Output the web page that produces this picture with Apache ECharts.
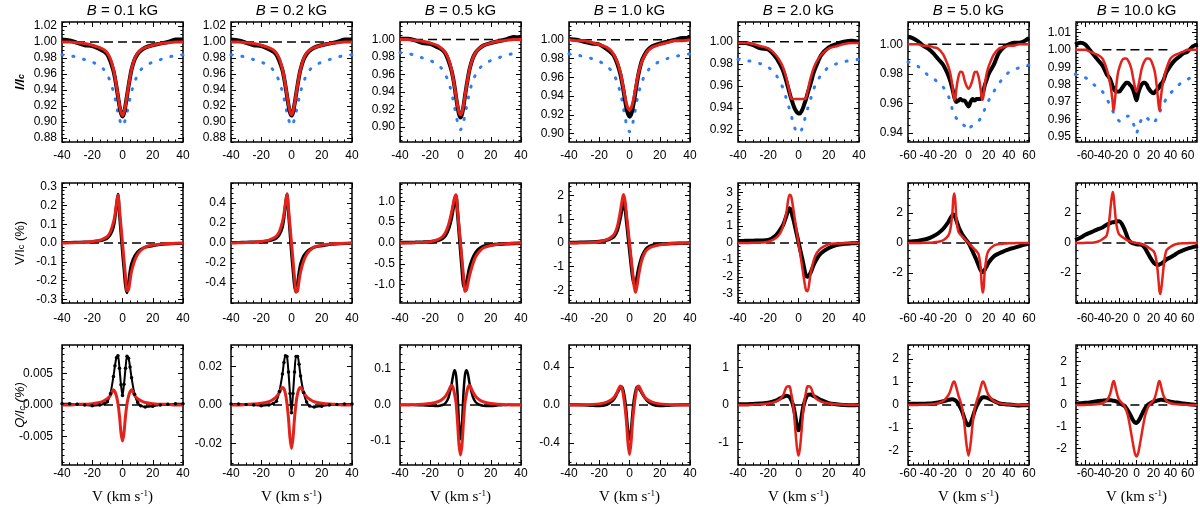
<!DOCTYPE html>
<html>
<head>
<meta charset="utf-8">
<script src="https://cdn.jsdelivr.net/npm/echarts@6/dist/echarts.min.js"></script>
<style>
  html, body { margin: 0; background: #fff; }
  #main { width: 1200px; height: 509px; }
</style>
</head>
<body>
<div id="main"></div>
<script>
// velocity grids (km/s)
const vel40 = [-40,-35,-30,-25,-20,-15,-12,-10,-8,-6,-5,-4,-3,-2,-1,0,1,2,3,4,5,6,8,10,12,15,20,25,30,35,40];
const vel60 = [-60,-55,-50,-45,-40,-35,-30,-25,-20,-18,-16,-15,-14,-13,-12,-10,-8,-6,-4,-2,0,2,4,6,8,10,12,13,14,15,16,18,20,25,30,35,40,45,50,55,60];
const vel72 = [-72,-66,-60,-55,-50,-45,-40,-35,-32,-30,-28,-27,-26,-24,-22,-20,-17,-14,-12,-10,-8,-6,-4,-2,0,2,4,6,8,10,12,14,17,20,22,24,26,27,28,30,32,35,40,45,50,55,60,66,72];
const levelX = [-40, 40];

const fieldLabels = ['0.1', '0.2', '0.5', '1.0', '2.0', '5.0', '10.0'];

// row 1: Stokes I (obs = black, fit = red, ref = blue dotted)
const iObs1 = [1.003,1.002,0.999,0.996,0.995,0.991,0.988,0.984,0.976,0.964,0.955,0.944,0.932,0.920,0.911,0.907,0.911,0.921,0.933,0.945,0.956,0.966,0.978,0.985,0.989,0.993,0.996,0.998,1.000,1.003,1.003];
const iFit1 = [1.000,1.000,0.999,0.998,0.996,0.993,0.990,0.986,0.979,0.966,0.956,0.945,0.933,0.921,0.912,0.908,0.912,0.921,0.933,0.945,0.956,0.966,0.979,0.986,0.990,0.993,0.996,0.998,0.999,1.000,1.000];
const iRef1 = [0.984,0.983,0.981,0.978,0.975,0.970,0.965,0.959,0.950,0.938,0.930,0.921,0.912,0.904,0.898,0.895,0.898,0.904,0.912,0.921,0.930,0.938,0.950,0.959,0.965,0.970,0.975,0.978,0.981,0.983,0.984];
const iObs2 = [1.003,1.002,0.999,0.996,0.995,0.991,0.988,0.984,0.976,0.965,0.956,0.945,0.933,0.921,0.912,0.908,0.912,0.922,0.934,0.946,0.957,0.966,0.978,0.985,0.989,0.993,0.996,0.998,1.000,1.003,1.003];
const iFit2 = [1.000,1.000,0.999,0.998,0.996,0.993,0.990,0.986,0.979,0.966,0.957,0.946,0.934,0.922,0.913,0.909,0.913,0.922,0.934,0.946,0.957,0.966,0.979,0.986,0.990,0.993,0.996,0.998,0.999,1.000,1.000];
const iRef2 = [0.984,0.983,0.981,0.978,0.975,0.970,0.965,0.959,0.950,0.938,0.930,0.921,0.912,0.904,0.898,0.895,0.898,0.904,0.912,0.921,0.930,0.938,0.950,0.959,0.965,0.970,0.975,0.978,0.981,0.983,0.984];
const iObs3 = [1.001,1.001,0.999,0.996,0.995,0.991,0.988,0.984,0.976,0.965,0.957,0.947,0.935,0.924,0.915,0.911,0.915,0.924,0.936,0.947,0.957,0.966,0.978,0.985,0.989,0.993,0.996,0.998,1.000,1.003,1.002];
const iFit3 = [1.000,1.000,0.999,0.998,0.996,0.993,0.989,0.985,0.978,0.966,0.957,0.947,0.936,0.925,0.917,0.914,0.917,0.925,0.936,0.947,0.957,0.966,0.978,0.985,0.989,0.993,0.996,0.998,0.999,1.000,1.000];
const iRef3 = [0.985,0.984,0.982,0.979,0.976,0.971,0.966,0.960,0.952,0.940,0.932,0.923,0.914,0.906,0.900,0.897,0.900,0.906,0.914,0.923,0.932,0.940,0.952,0.960,0.966,0.971,0.976,0.979,0.982,0.984,0.985];
const iObs4 = [1.001,1.000,0.998,0.996,0.995,0.990,0.986,0.982,0.974,0.963,0.955,0.946,0.936,0.927,0.921,0.918,0.920,0.926,0.935,0.945,0.955,0.964,0.977,0.984,0.989,0.993,0.996,0.998,1.000,1.002,1.002];
const iFit4 = [1.000,0.999,0.999,0.997,0.995,0.992,0.988,0.983,0.976,0.965,0.957,0.948,0.939,0.932,0.927,0.925,0.927,0.932,0.939,0.948,0.957,0.965,0.976,0.983,0.988,0.992,0.995,0.997,0.999,0.999,1.000];
const iRef4 = [0.985,0.984,0.982,0.980,0.977,0.972,0.967,0.962,0.954,0.943,0.936,0.927,0.918,0.910,0.905,0.902,0.905,0.910,0.918,0.927,0.936,0.943,0.954,0.962,0.967,0.972,0.977,0.980,0.982,0.984,0.985];
const iObs5 = [0.999,0.999,0.997,0.994,0.993,0.986,0.979,0.973,0.964,0.954,0.949,0.945,0.941,0.938,0.936,0.935,0.935,0.937,0.940,0.944,0.948,0.953,0.962,0.972,0.979,0.988,0.995,0.998,1.000,1.001,1.000];
const iFit5 = [0.999,0.999,0.998,0.996,0.994,0.988,0.982,0.976,0.967,0.955,0.949,0.948,0.948,0.948,0.948,0.948,0.948,0.948,0.948,0.948,0.949,0.955,0.967,0.976,0.982,0.988,0.994,0.996,0.998,0.999,0.999];
const iRef5 = [0.984,0.983,0.982,0.980,0.977,0.970,0.963,0.957,0.948,0.939,0.934,0.929,0.924,0.920,0.918,0.917,0.918,0.920,0.924,0.929,0.934,0.939,0.948,0.957,0.963,0.970,0.977,0.980,0.982,0.983,0.984];
const iObs6 = [1.005,1.004,1.002,0.999,0.997,0.994,0.990,0.986,0.979,0.975,0.970,0.967,0.964,0.962,0.961,0.962,0.963,0.962,0.962,0.960,0.958,0.961,0.963,0.962,0.963,0.963,0.963,0.964,0.966,0.969,0.972,0.976,0.980,0.986,0.994,0.998,1.000,1.001,1.001,1.002,1.004];
const iFit6 = [1.000,1.000,1.000,0.999,0.999,0.998,0.997,0.993,0.985,0.980,0.972,0.966,0.9625,0.964,0.970,0.978,0.9815,0.981,0.976,0.972,0.970,0.972,0.976,0.981,0.9815,0.978,0.970,0.964,0.9625,0.966,0.972,0.980,0.985,0.993,0.997,0.998,0.999,0.999,1.000,1.000,1.000];
const iRef6 = [0.988,0.987,0.985,0.982,0.979,0.977,0.974,0.971,0.965,0.961,0.956,0.954,0.952,0.951,0.950,0.948,0.947,0.946,0.945,0.944,0.942,0.944,0.945,0.946,0.947,0.948,0.950,0.951,0.952,0.954,0.956,0.959,0.962,0.968,0.973,0.978,0.981,0.983,0.984,0.985,0.986];
const iObs7 = [1.003,1.004,1.003,1.000,0.997,0.994,0.991,0.986,0.984,0.982,0.979,0.978,0.977,0.976,0.976,0.976,0.978,0.980,0.981,0.981,0.980,0.979,0.977,0.974,0.971,0.975,0.978,0.980,0.981,0.981,0.980,0.978,0.976,0.975,0.976,0.977,0.978,0.979,0.980,0.981,0.983,0.987,0.991,0.994,0.996,0.998,0.999,1.002,1.003];
const iFit7 = [1.000,1.000,1.000,0.999,0.998,0.997,0.995,0.989,0.983,0.978,0.970,0.965,0.968,0.978,0.986,0.990,0.994,0.995,0.995,0.994,0.992,0.989,0.984,0.979,0.976,0.979,0.984,0.989,0.992,0.994,0.995,0.995,0.994,0.990,0.986,0.978,0.968,0.965,0.970,0.978,0.983,0.989,0.995,0.997,0.998,0.999,1.000,1.000,1.000];
const iRef7 = [0.986,0.985,0.984,0.982,0.980,0.978,0.976,0.972,0.969,0.967,0.965,0.964,0.963,0.961,0.960,0.959,0.959,0.960,0.961,0.962,0.961,0.960,0.958,0.955,0.952,0.955,0.958,0.960,0.961,0.962,0.961,0.960,0.958,0.958,0.959,0.961,0.962,0.963,0.965,0.967,0.969,0.972,0.975,0.978,0.980,0.982,0.983,0.985,0.986];

// row 2: Stokes V (%)
const vObs1 = [0.003,0.003,0.004,0.005,0.007,0.012,0.018,0.026,0.045,0.085,0.13,0.2,0.26,0.15,0.05,-0.05,-0.14,-0.23,-0.265,-0.21,-0.15,-0.11,-0.07,-0.048,-0.035,-0.022,-0.015,-0.008,-0.005,-0.003,-0.002];
const vFit1 = [0,0.001,0.002,0.004,0.008,0.015,0.025,0.035,0.06,0.11,0.15,0.21,0.255,0.18,0.09,0,-0.09,-0.18,-0.255,-0.25,-0.2,-0.15,-0.095,-0.06,-0.04,-0.022,-0.011,-0.006,-0.003,-0.001,0];
const vObs2 = [0.005,0.006,0.008,0.01,0.013,0.022,0.034,0.05,0.085,0.16,0.25,0.38,0.49,0.3,0.1,-0.1,-0.27,-0.43,-0.49,-0.4,-0.29,-0.21,-0.13,-0.09,-0.065,-0.042,-0.028,-0.016,-0.01,-0.006,-0.003];
const vFit2 = [0,0.002,0.004,0.008,0.015,0.029,0.048,0.067,0.115,0.21,0.29,0.4,0.49,0.35,0.17,0,-0.17,-0.35,-0.49,-0.48,-0.38,-0.29,-0.18,-0.115,-0.077,-0.042,-0.021,-0.012,-0.006,-0.002,0];
const vObs3 = [0.01,0.012,0.015,0.02,0.03,0.06,0.11,0.18,0.33,0.6,0.8,1.0,1.12,0.75,0.3,-0.15,-0.6,-1.0,-1.08,-0.95,-0.78,-0.6,-0.38,-0.24,-0.15,-0.08,-0.05,-0.03,-0.02,-0.01,-0.005];
const vFit3 = [0,0.003,0.008,0.015,0.03,0.08,0.15,0.25,0.43,0.72,0.9,1.08,1.16,0.8,0.4,0,-0.4,-0.8,-1.16,-1.12,-0.95,-0.78,-0.52,-0.33,-0.22,-0.12,-0.06,-0.03,-0.015,-0.006,0];
const vObs4 = [0.02,0.025,0.03,0.04,0.06,0.12,0.2,0.3,0.55,1.1,1.45,1.7,1.5,0.95,0.35,-0.25,-0.85,-1.4,-1.7,-1.72,-1.45,-1.1,-0.62,-0.35,-0.2,-0.1,-0.05,-0.03,-0.02,-0.01,-0.005];
const vFit4 = [0,0.005,0.01,0.02,0.05,0.14,0.25,0.38,0.7,1.35,1.75,2.05,1.8,1.2,0.6,0,-0.6,-1.2,-1.8,-2.08,-1.8,-1.38,-0.75,-0.42,-0.26,-0.15,-0.07,-0.035,-0.015,-0.006,0];
const vObs5 = [0.12,0.13,0.14,0.15,0.18,0.45,0.8,1.1,1.6,2.05,1.95,1.6,1.25,0.85,0.45,0.05,-0.35,-0.75,-1.15,-1.6,-1.95,-2.0,-1.75,-1.3,-0.95,-0.6,-0.3,-0.12,-0.05,-0.02,0];
const vFit5 = [0,0.005,0.01,0.03,0.07,0.3,0.6,1.05,1.8,2.85,2.8,2.35,1.75,1.15,0.55,0,-0.55,-1.15,-1.75,-2.35,-2.8,-2.85,-1.8,-1.05,-0.6,-0.3,-0.07,-0.03,-0.01,-0.005,0];
const vObs6 = [0.1,0.12,0.15,0.22,0.3,0.45,0.65,0.95,1.4,1.65,1.85,1.9,1.85,1.7,1.5,1.1,0.8,0.55,0.35,0.18,0,-0.25,-0.55,-0.85,-1.15,-1.5,-1.8,-1.9,-1.95,-1.9,-1.8,-1.55,-1.3,-0.9,-0.7,-0.55,-0.42,-0.32,-0.22,-0.12,-0.05];
const vFit6 = [0,0,0.005,0.01,0.02,0.04,0.08,0.18,0.5,0.9,2.0,3.0,3.3,2.7,1.6,0.75,0.55,0.42,0.28,0.14,0,-0.14,-0.28,-0.42,-0.55,-0.75,-1.6,-2.7,-3.3,-3.0,-2.0,-0.9,-0.5,-0.18,-0.08,-0.04,-0.02,-0.01,-0.005,0,0];
const vObs7 = [0.2,0.35,0.55,0.68,0.8,0.92,1.03,1.22,1.3,1.35,1.38,1.38,1.4,1.42,1.45,1.45,1.25,0.9,0.6,0.3,0.12,0.02,-0.03,-0.05,-0.08,-0.1,-0.1,-0.12,-0.2,-0.35,-0.55,-0.75,-1.05,-1.3,-1.4,-1.45,-1.45,-1.42,-1.4,-1.35,-1.25,-1.1,-0.95,-0.78,-0.6,-0.48,-0.38,-0.28,-0.18];
const vFit7 = [0,0,0.01,0.02,0.04,0.1,0.25,0.5,1.5,2.6,3.4,3.2,2.6,1.4,0.8,0.55,0.42,0.3,0.22,0.16,0.12,0.08,0.05,0.02,0,-0.02,-0.05,-0.08,-0.12,-0.16,-0.22,-0.3,-0.42,-0.55,-0.8,-1.4,-2.6,-3.2,-3.4,-2.6,-1.5,-0.5,-0.25,-0.1,-0.04,-0.02,-0.01,0,0];

// row 3: Stokes Q (%)
const qObs1 = [0.0002,0.0002,0.0001,0.0,-0.0001,0.0,0.0002,0.0005,0.0018,0.0045,0.0062,0.0075,0.0078,0.0058,0.0032,0.0015,0.0033,0.0058,0.0077,0.0074,0.006,0.0043,0.0017,0.0004,-0.0001,-0.0003,-0.0002,0.0,0.0001,0.0002,0.0002];
const qFit1 = [0,0,0.0001,0.0001,0.0002,0.0004,0.0007,0.001,0.0015,0.0024,0.0021,0.0014,0.0002,-0.0017,-0.0044,-0.0057,-0.0044,-0.0017,0.0002,0.0014,0.0021,0.0024,0.0015,0.001,0.0007,0.0004,0.0002,0.0001,0.0001,0,0];
const qObs2 = [0.0005,0.0005,0.0003,0.0,-0.0004,0.0,0.0008,0.002,0.007,0.016,0.022,0.0255,0.025,0.017,0.006,-0.004,0.006,0.017,0.025,0.025,0.021,0.015,0.0065,0.0015,-0.0005,-0.001,-0.0006,0.0,0.0003,0.0005,0.0005];
const qFit2 = [0,0,0.0003,0.0005,0.0009,0.0017,0.003,0.0042,0.0065,0.009,0.0085,0.0058,0.0008,-0.0068,-0.017,-0.0225,-0.017,-0.0068,0.0008,0.0058,0.0085,0.009,0.0065,0.0042,0.003,0.0017,0.0009,0.0005,0.0003,0,0];
const qObs3 = [0.001,0.001,0.0,-0.001,-0.002,-0.003,0.0,0.005,0.02,0.055,0.08,0.097,0.085,0.035,-0.05,-0.095,-0.05,0.035,0.085,0.097,0.085,0.06,0.025,0.008,0.002,-0.002,-0.003,-0.001,0.0,0.001,0.001];
const qFit3 = [0,0,0.001,0.002,0.004,0.009,0.016,0.024,0.038,0.054,0.05,0.032,0.008,-0.045,-0.11,-0.139,-0.11,-0.045,0.008,0.032,0.05,0.054,0.038,0.024,0.016,0.009,0.004,0.002,0.001,0,0];
const qObs4 = [0.002,0.002,0.0,-0.005,-0.008,0.005,0.035,0.07,0.13,0.185,0.19,0.14,0.05,-0.1,-0.28,-0.36,-0.28,-0.1,0.05,0.14,0.19,0.18,0.13,0.08,0.04,0.008,-0.008,-0.005,0.0,0.002,0.002];
const qFit4 = [0,0.001,0.002,0.005,0.012,0.03,0.055,0.085,0.14,0.2,0.18,0.1,-0.02,-0.18,-0.4,-0.52,-0.4,-0.18,-0.02,0.1,0.18,0.2,0.14,0.085,0.055,0.03,0.012,0.005,0.002,0.001,0];
const qObs5 = [0.02,0.02,0.03,0.04,0.06,0.12,0.18,0.22,0.25,0.22,0.15,0.05,-0.1,-0.33,-0.58,-0.68,-0.58,-0.33,-0.08,0.08,0.2,0.27,0.28,0.24,0.2,0.13,0.05,0.02,0.0,-0.01,0.0];
const qFit5 = [0,0.002,0.01,0.02,0.04,0.09,0.16,0.27,0.48,0.5,0.35,0.12,-0.2,-0.7,-1.15,-1.36,-1.15,-0.7,-0.2,0.12,0.35,0.5,0.48,0.27,0.16,0.09,0.04,0.02,0.01,0.002,0];
const qObs6 = [0.05,0.05,0.05,0.05,0.06,0.08,0.11,0.16,0.22,0.24,0.25,0.24,0.22,0.2,0.16,0.05,-0.12,-0.32,-0.58,-0.8,-0.88,-0.78,-0.55,-0.28,-0.05,0.12,0.25,0.3,0.33,0.34,0.34,0.32,0.28,0.18,0.08,0.04,0.02,0.0,-0.02,-0.01,0.0];
const qFit6 = [0,0,0.005,0.01,0.02,0.04,0.08,0.17,0.42,0.62,0.9,1.0,1.02,0.9,0.75,0.42,0.15,-0.2,-0.85,-1.7,-2.2,-1.7,-0.85,-0.2,0.15,0.42,0.75,0.9,1.02,1.0,0.9,0.62,0.42,0.17,0.08,0.04,0.02,0.01,0.005,0,0];
const qObs7 = [0.05,0.08,0.1,0.12,0.15,0.18,0.2,0.22,0.22,0.22,0.2,0.2,0.19,0.17,0.14,0.1,0.03,-0.05,-0.15,-0.27,-0.4,-0.55,-0.7,-0.8,-0.82,-0.75,-0.62,-0.45,-0.3,-0.15,-0.05,0.03,0.1,0.15,0.18,0.2,0.22,0.23,0.24,0.24,0.23,0.2,0.15,0.12,0.1,0.07,0.05,0.02,0.0];
const qFit7 = [0,0,0.005,0.01,0.02,0.04,0.08,0.2,0.4,0.65,1.0,1.1,1.05,0.7,0.4,0.22,0.08,-0.06,-0.25,-0.5,-0.9,-1.35,-1.8,-2.2,-2.36,-2.2,-1.8,-1.35,-0.9,-0.5,-0.25,-0.06,0.08,0.22,0.4,0.7,1.05,1.1,1.0,0.65,0.4,0.2,0.08,0.04,0.02,0.01,0.005,0,0];

// axis ranges and tick labels
const xRanges = [[-40,40],[-40,40],[-40,40],[-40,40],[-40,40],[-60,60],[-71,71]];
const xTicks40 = [-40,-20,0,20,40];
const xTicks60 = [-60,-40,-20,0,20,40,60];
// the crowded last column is labelled from two interleaved sets
const xTicks72a = [-60,-20,20,60];
const xTicks72b = [-40,0,40];

const iRanges = [[0.875,1.025],[0.875,1.025],[0.883,1.020],[0.891,1.019],[0.909,1.018],[0.934,1.015],[0.947,1.016]];
const vRanges = [0.32, 0.6, 1.44, 2.53, 3.55, 4.0, 4.0];
const qRanges = [0.0095, 0.031, 0.167, 0.63, 1.61, 2.6, 2.75];

const iTicks = [
  [0.88,0.90,0.92,0.94,0.96,0.98,1.00,1.02],
  [0.88,0.90,0.92,0.94,0.96,0.98,1.00,1.02],
  [0.90,0.92,0.94,0.96,0.98,1.00],
  [0.90,0.92,0.94,0.96,0.98,1.00],
  [0.92,0.94,0.96,0.98,1.00],
  [0.94,0.96,0.98,1.00],
  [0.95,0.96,0.97,0.98,0.99,1.00,1.01]
];
const vTicks = [[-0.3,-0.2,-0.1,0,0.1,0.2,0.3],[-0.4,-0.2,0,0.2,0.4],[-1,-0.5,0,0.5,1],[-2,-1,0,1,2],[-3,-2,-1,0,1,2,3],[-2,0,2],[-2,0,2]];
const qTicks = [[-0.005,0,0.005],[-0.02,0,0.02],[-0.1,0,0.1],[-0.4,0,0.4],[-1,0,1],[-2,-1,0,1,2],[-2,-1,0,1,2]];
const vDec = [1,1,1,0,0,0,0];
const qDec = [3,2,1,1,0,0,0];
const iMinor = [0.005,0.005,0.005,0.005,0.005,0.005,0.002];
const vMinor = [0.02,0.05,0.1,0.2,0.2,0.5,0.5];
const qMinor = [0.001,0.005,0.02,0.1,0.2,0.2,0.2];

const velCols = [vel40, vel40, vel40, vel40, vel40, vel60, vel72];
const iObs = [iObs1,iObs2,iObs3,iObs4,iObs5,iObs6,iObs7];
const iFit = [iFit1,iFit2,iFit3,iFit4,iFit5,iFit6,iFit7];
const iRef = [iRef1,iRef2,iRef3,iRef4,iRef5,iRef6,iRef7];
const vObs = [vObs1,vObs2,vObs3,vObs4,vObs5,vObs6,vObs7];
const vFit = [vFit1,vFit2,vFit3,vFit4,vFit5,vFit6,vFit7];
const qObs = [qObs1,qObs2,qObs3,qObs4,qObs5,qObs6,qObs7];
const qFit = [qFit1,qFit2,qFit3,qFit4,qFit5,qFit6,qFit7];

// layout
const gridLeft = [62, 231, 400, 569, 738, 908, 1076];
const rowTop = [22, 183, 345];
const gridW = 121, gridH = 120;
const xLabelMargin = [8, 10, 3];
const yLabelMargin = [5, 5, 9];
const blackW = [[4,4,4,4,4,4,4],[3,3,3.5,3.5,4,4,4],[2,2,2.5,3,4,4,4]];
const redW = [3,3,3,3,2.5,2.5,2.5];
const RED = '#e3221b', BLUE = '#2e7cf6';
const tickFont = 'Liberation Sans';

function minorValues(min, max, step) {
  const out = [];
  for (let v = Math.ceil(min / step - 1e-9) * step; v <= max + 1e-9; v += step) out.push(+v.toFixed(6));
  return out;
}

function makeAxis(g, pos, min, max, ticks, len, label, labelValues) {
  return {
    gridIndex: g, type: 'value', position: pos, min: min, max: max,
    axisLine: { show: false, onZero: false },
    splitLine: { show: false },
    axisTick: { show: true, inside: true, length: len, customValues: ticks, lineStyle: { color: '#000', width: 1 } },
    axisLabel: label ? Object.assign({ show: true, customValues: labelValues || ticks, hideOverlap: false, showMinLabel: true, showMaxLabel: true, color: '#000', fontFamily: tickFont, fontSize: 12 }, label) : { show: false }
  };
}

function line(g, xs, ys, lineStyle, extra) {
  return Object.assign({
    type: 'line', xAxisIndex: 4 * g, yAxisIndex: 4 * g,
    data: xs.map((x, i) => [x, ys[i]]),
    showSymbol: false, smooth: 0.3, silent: true,
    lineStyle: lineStyle, itemStyle: { color: lineStyle.color }
  }, extra || {});
}

var chartDom = document.getElementById('main');
var myChart = echarts.init(chartDom);
var option = { animation: false, backgroundColor: '#fff', grid: [], xAxis: [], yAxis: [], series: [], graphic: [] };

let g = 0;
for (let r = 0; r < 3; r++) {
  for (let c = 0; c < 7; c++) {
    option.grid.push({ left: gridLeft[c], top: rowTop[r], width: gridW, height: gridH, show: true, borderColor: '#000', borderWidth: 1.5, backgroundColor: 'transparent' });

    const [x0, x1] = xRanges[c];
    const xt = c < 5 ? xTicks40 : xTicks60;
    const xm = minorValues(x0, x1, 5);
    const xLab = { margin: xLabelMargin[r], formatter: v => String(v) };
    if (c === 6) {
      option.xAxis.push(makeAxis(g, 'bottom', x0, x1, xt, 5, xLab, xTicks72a));
      option.xAxis.push(makeAxis(g, 'top', x0, x1, xt, 5, null));
      option.xAxis.push(makeAxis(g, 'bottom', x0, x1, xm, 2.5, xLab, xTicks72b));
    } else {
      option.xAxis.push(makeAxis(g, 'bottom', x0, x1, xt, 5, xLab));
      option.xAxis.push(makeAxis(g, 'top', x0, x1, xt, 5, null));
      option.xAxis.push(makeAxis(g, 'bottom', x0, x1, xm, 2.5, null));
    }
    option.xAxis.push(makeAxis(g, 'top', x0, x1, xm, 2.5, null));

    let y0, y1, yt, dec, ystep, level;
    if (r === 0) { [y0, y1] = iRanges[c]; yt = iTicks[c]; dec = 2; ystep = iMinor[c]; level = 1; }
    else if (r === 1) { y0 = -vRanges[c]; y1 = vRanges[c]; yt = vTicks[c]; dec = vDec[c]; ystep = vMinor[c]; level = 0; }
    else { y0 = -qRanges[c]; y1 = qRanges[c]; yt = qTicks[c]; dec = qDec[c]; ystep = qMinor[c]; level = 0; }
    const ym = minorValues(y0, y1, ystep);
    option.yAxis.push(makeAxis(g, 'left', y0, y1, yt, 5, { margin: yLabelMargin[r], formatter: v => Number(v).toFixed(dec) }));
    option.yAxis.push(makeAxis(g, 'right', y0, y1, yt, 5, null));
    option.yAxis.push(makeAxis(g, 'left', y0, y1, ym, 2.5, null));
    option.yAxis.push(makeAxis(g, 'right', y0, y1, ym, 2.5, null));

    const xs = velCols[c];
    option.series.push(line(g, levelX, [level, level], { color: '#000', width: 1.5, type: [9, 5] }, { smooth: false }));
    if (r === 0) {
      option.series.push(line(g, xs, iRef[c], { color: BLUE, width: 3, type: [1, 10], cap: 'round' }));
    }
    const obs = r === 0 ? iObs[c] : (r === 1 ? vObs[c] : qObs[c]);
    const fit = r === 0 ? iFit[c] : (r === 1 ? vFit[c] : qFit[c]);
    const dots = r === 2 && c < 2 ? { showSymbol: true, symbol: 'circle', symbolSize: 3.5 } : {};
    option.series.push(line(g, xs, obs, { color: '#000', width: blackW[r][c] }, dots));
    option.series.push(line(g, xs, fit, { color: RED, width: redW[c] }));
    g++;
  }
}

// column titles and x-axis titles
for (let c = 0; c < 7; c++) {
  option.graphic.push({
    type: 'text', x: gridLeft[c] + gridW / 2, y: 11,
    style: {
      text: '{i|B} = ' + fieldLabels[c] + ' kG',
      textAlign: 'center', textVerticalAlign: 'middle',
      fontFamily: tickFont, fontSize: 15, fill: '#000',
      rich: { i: { fontStyle: 'italic', fontFamily: tickFont, fontSize: 15 } }
    }
  });
  option.graphic.push({
    type: 'text', x: gridLeft[c] + gridW / 2, y: 497,
    style: {
      text: 'V (km s{s|-1})',
      textAlign: 'center', textVerticalAlign: 'middle',
      fontFamily: 'Liberation Serif', fontSize: 15, fill: '#000',
      rich: { s: { fontFamily: 'Liberation Serif', fontSize: 9, verticalAlign: 'top' } }
    }
  });
}

// y axis titles
const yTitles = [
  { y: 82, text: '{a|I/I}{s|c}', style: 'italic', weight: 'bold' },
  { y: 243, text: '{a|V/I}{s|c}{a|\u00a0(%)}', style: 'normal', weight: 'normal' },
  { y: 405, text: '{a|Q/I}{s|c}{a|\u00a0(%)}', style: 'italic', weight: 'normal' }
];
yTitles.forEach(t => {
  option.graphic.push({
    type: 'text', x: 20, y: t.y, rotation: Math.PI / 2,
    style: {
      text: t.text, textAlign: 'center', textVerticalAlign: 'middle', fill: '#000',
      rich: {
        a: { fontFamily: tickFont, fontSize: 13, fontStyle: t.style, fontWeight: t.weight },
        s: { fontFamily: tickFont, fontSize: 9, fontStyle: t.style, fontWeight: t.weight, verticalAlign: 'bottom' }
      }
    }
  });
});

option && myChart.setOption(option);
</script>
</body>
</html>
